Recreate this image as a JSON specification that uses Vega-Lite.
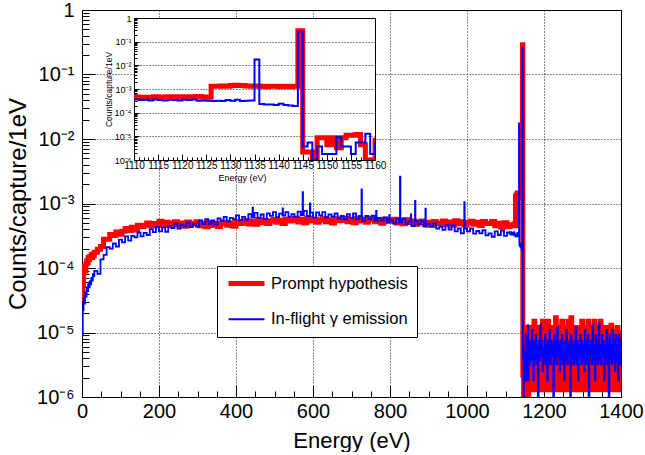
{
"$schema": "https://vega.github.io/schema/vega-lite/v6.json",
"background": "white",
"padding": {"left": 5, "top": -1, "right": 0, "bottom": 0},
"autosize": {"type": "pad"},
"config": {
  "font": "Liberation Sans",
  "view": {"stroke": "black", "strokeWidth": 1},
  "axis": {"labelColor": "#000", "titleColor": "#000", "tickColor": "#000", "domainColor": "#000", "titleFontWeight": "normal", "labelFont": "Liberation Sans", "titleFont": "Liberation Sans"},
  "line": {"strokeJoin": "miter", "strokeCap": "butt"}
},
"datasets": {
"h": [
{"s":"P","e":0,"v":3.3e-5},{"s":"P","e":2,"v":5.5e-5},{"s":"P","e":4,"v":8.5e-5},{"s":"P","e":6,"v":1.05e-4},{"s":"P","e":8,"v":9e-5},{"s":"P","e":10,"v":1.15e-4},{"s":"P","e":12,"v":1.3e-4},{"s":"P","e":14,"v":1.2e-4},{"s":"P","e":16,"v":1.45e-4},{"s":"P","e":18,"v":1.35e-4},{"s":"P","e":20,"v":1.5e-4},{"s":"P","e":22,"v":1.45e-4},{"s":"P","e":24,"v":1.6e-4},{"s":"P","e":26,"v":1.45e-4},{"s":"P","e":28,"v":1.65e-4},{"s":"P","e":30,"v":1.55e-4},
{"s":"P","e":32,"v":1.75e-4},{"s":"P","e":40,"v":1.95e-4},{"s":"P","e":48,"v":2.15e-4},{"s":"P","e":56,"v":2.8e-4},{"s":"P","e":64,"v":2.8e-4},{"s":"P","e":72,"v":3.3e-4},{"s":"P","e":80,"v":3.2e-4},{"s":"P","e":88,"v":3.6e-4},{"s":"P","e":96,"v":3.35e-4},{"s":"P","e":104,"v":3.7e-4},{"s":"P","e":112,"v":4.1e-4},{"s":"P","e":120,"v":3.8e-4},{"s":"P","e":128,"v":4.3e-4},{"s":"P","e":136,"v":3.9e-4},{"s":"P","e":144,"v":4.6e-4},{"s":"P","e":152,"v":4.4e-4},{"s":"P","e":160,"v":4.6e-4},{"s":"P","e":168,"v":5.0e-4},{"s":"P","e":176,"v":4.5e-4},{"s":"P","e":184,"v":4.9e-4},{"s":"P","e":192,"v":4.5e-4},{"s":"P","e":200,"v":5.3e-4},{"s":"P","e":208,"v":4.75e-4},{"s":"P","e":216,"v":5.1e-4},{"s":"P","e":224,"v":4.55e-4},{"s":"P","e":232,"v":4.95e-4},{"s":"P","e":240,"v":5.2e-4},{"s":"P","e":248,"v":4.65e-4},{"s":"P","e":256,"v":5.0e-4},{"s":"P","e":264,"v":4.45e-4},{"s":"P","e":272,"v":5.15e-4},{"s":"P","e":280,"v":4.8e-4},{"s":"P","e":288,"v":4.85e-4},{"s":"P","e":296,"v":5.2e-4},{"s":"P","e":304,"v":4.5e-4},{"s":"P","e":312,"v":4.95e-4},{"s":"P","e":320,"v":4.35e-4},{"s":"P","e":328,"v":5.1e-4},{"s":"P","e":336,"v":4.55e-4},{"s":"P","e":344,"v":4.9e-4},{"s":"P","e":352,"v":4.4e-4},{"s":"P","e":360,"v":4.85e-4},{"s":"P","e":368,"v":5.1e-4},{"s":"P","e":376,"v":4.6e-4},{"s":"P","e":384,"v":5.0e-4},{"s":"P","e":392,"v":4.45e-4},{"s":"P","e":400,"v":5.2e-4},{"s":"P","e":408,"v":4.9e-4},{"s":"P","e":416,"v":5.0e-4},{"s":"P","e":424,"v":5.4e-4},{"s":"P","e":432,"v":4.8e-4},{"s":"P","e":440,"v":5.25e-4},{"s":"P","e":448,"v":4.75e-4},{"s":"P","e":456,"v":5.6e-4},{"s":"P","e":464,"v":5.05e-4},{"s":"P","e":472,"v":5.45e-4},{"s":"P","e":480,"v":4.9e-4},{"s":"P","e":488,"v":5.35e-4},{"s":"P","e":496,"v":5.65e-4},{"s":"P","e":504,"v":5.1e-4},{"s":"P","e":512,"v":5.5e-4},{"s":"P","e":520,"v":4.9e-4},{"s":"P","e":528,"v":5.7e-4},{"s":"P","e":536,"v":5.35e-4},{"s":"P","e":544,"v":5.45e-4},{"s":"P","e":552,"v":5.9e-4},{"s":"P","e":560,"v":5.15e-4},{"s":"P","e":568,"v":5.65e-4},{"s":"P","e":576,"v":5.05e-4},{"s":"P","e":584,"v":5.95e-4},{"s":"P","e":592,"v":5.35e-4},{"s":"P","e":600,"v":5.7e-4},{"s":"P","e":608,"v":5.1e-4},{"s":"P","e":616,"v":5.55e-4},{"s":"P","e":624,"v":5.85e-4},{"s":"P","e":632,"v":5.2e-4},{"s":"P","e":640,"v":5.6e-4},{"s":"P","e":648,"v":5.0e-4},{"s":"P","e":656,"v":5.8e-4},{"s":"P","e":664,"v":5.4e-4},{"s":"P","e":672,"v":5.5e-4},{"s":"P","e":680,"v":5.9e-4},{"s":"P","e":688,"v":5.2e-4},{"s":"P","e":696,"v":5.65e-4},{"s":"P","e":704,"v":5.05e-4},{"s":"P","e":712,"v":5.95e-4},{"s":"P","e":720,"v":5.35e-4},{"s":"P","e":728,"v":5.7e-4},{"s":"P","e":736,"v":5.1e-4},{"s":"P","e":744,"v":5.55e-4},{"s":"P","e":752,"v":5.85e-4},{"s":"P","e":760,"v":5.2e-4},{"s":"P","e":768,"v":5.6e-4},{"s":"P","e":776,"v":4.95e-4},{"s":"P","e":784,"v":5.7e-4},{"s":"P","e":792,"v":5.3e-4},{"s":"P","e":800,"v":5.4e-4},{"s":"P","e":808,"v":5.7e-4},{"s":"P","e":816,"v":5.0e-4},{"s":"P","e":824,"v":5.45e-4},{"s":"P","e":832,"v":4.85e-4},{"s":"P","e":840,"v":5.6e-4},{"s":"P","e":848,"v":5.05e-4},{"s":"P","e":856,"v":5.35e-4},{"s":"P","e":864,"v":4.75e-4},{"s":"P","e":872,"v":5.15e-4},{"s":"P","e":880,"v":5.35e-4},{"s":"P","e":888,"v":4.75e-4},{"s":"P","e":896,"v":5.1e-4},{"s":"P","e":904,"v":4.55e-4},{"s":"P","e":912,"v":5.25e-4},{"s":"P","e":920,"v":4.9e-4},{"s":"P","e":928,"v":5.0e-4},{"s":"P","e":936,"v":5.35e-4},{"s":"P","e":944,"v":4.7e-4},{"s":"P","e":952,"v":5.15e-4},{"s":"P","e":960,"v":4.6e-4},{"s":"P","e":968,"v":5.4e-4},{"s":"P","e":976,"v":4.85e-4},{"s":"P","e":984,"v":5.2e-4},{"s":"P","e":992,"v":4.65e-4},{"s":"P","e":1000,"v":5.05e-4},{"s":"P","e":1008,"v":5.3e-4},{"s":"P","e":1016,"v":4.75e-4},{"s":"P","e":1024,"v":5.1e-4},{"s":"P","e":1032,"v":4.55e-4},{"s":"P","e":1040,"v":5.25e-4},{"s":"P","e":1048,"v":4.9e-4},{"s":"P","e":1056,"v":4.9e-4},{"s":"P","e":1064,"v":5.25e-4},{"s":"P","e":1072,"v":4.5e-4},{"s":"P","e":1080,"v":4.95e-4},{"s":"P","e":1088,"v":4.3e-4},{"s":"P","e":1096,"v":5.05e-4},{"s":"P","e":1104,"v":4.45e-4},
{"s":"P","e":1110,"v":4.6e-4},{"s":"P","e":1111,"v":4.4e-4},{"s":"P","e":1112,"v":4.5e-4},{"s":"P","e":1113,"v":4.5e-4},{"s":"P","e":1114,"v":4.7e-4},{"s":"P","e":1115,"v":4.6e-4},{"s":"P","e":1116,"v":4.5e-4},{"s":"P","e":1117,"v":4.7e-4},{"s":"P","e":1118,"v":4.6e-4},{"s":"P","e":1119,"v":4.7e-4},{"s":"P","e":1120,"v":4.5e-4},{"s":"P","e":1121,"v":4.7e-4},{"s":"P","e":1122,"v":4.6e-4},{"s":"P","e":1123,"v":4.8e-4},{"s":"P","e":1124,"v":4.6e-4},{"s":"P","e":1125,"v":4.5e-4},{"s":"P","e":1126,"v":1.3e-3},{"s":"P","e":1127,"v":1.3e-3},{"s":"P","e":1128,"v":1.35e-3},{"s":"P","e":1129,"v":1.3e-3},{"s":"P","e":1130,"v":1.4e-3},{"s":"P","e":1131,"v":1.45e-3},{"s":"P","e":1132,"v":1.4e-3},{"s":"P","e":1133,"v":1.35e-3},{"s":"P","e":1134,"v":1.3e-3},{"s":"P","e":1135,"v":1.35e-3},{"s":"P","e":1136,"v":1.3e-3},{"s":"P","e":1137,"v":1.25e-3},{"s":"P","e":1138,"v":1.3e-3},{"s":"P","e":1139,"v":1.3e-3},{"s":"P","e":1140,"v":1.25e-3},{"s":"P","e":1141,"v":1.3e-3},{"s":"P","e":1142,"v":1.25e-3},{"s":"P","e":1143,"v":1.3e-3},{"s":"P","e":1144,"v":0.29},{"s":"P","e":1145,"v":2.2e-6},{"s":"P","e":1146,"v":2.2e-6},{"s":"P","e":1147,"v":1e-6},{"s":"P","e":1148,"v":8.8e-6},{"s":"P","e":1149,"v":8.8e-6},{"s":"P","e":1150,"v":4.4e-6},{"s":"P","e":1151,"v":8.8e-6},{"s":"P","e":1152,"v":3.3e-6},{"s":"P","e":1153,"v":8.8e-6},{"s":"P","e":1154,"v":1.1e-5},{"s":"P","e":1155,"v":1.1e-5},{"s":"P","e":1156,"v":1.2e-5},{"s":"P","e":1157,"v":4.4e-6},{"s":"P","e":1158,"v":1e-6},{"s":"P","e":1159,"v":1e-6},
{"s":"P","e":1160,"v":8.8e-6},{"s":"P","e":1162,"v":1.3e-6},{"s":"P","e":1164,"v":1.2e-5},{"s":"P","e":1166,"v":1.3e-6},{"s":"P","e":1168,"v":5e-6},{"s":"P","e":1170,"v":1.0e-5},{"s":"P","e":1172,"v":1.3e-6},{"s":"P","e":1174,"v":1.5e-5},{"s":"P","e":1176,"v":3e-6},{"s":"P","e":1178,"v":1.0e-5},
{"s":"P","e":1180,"v":1.3e-6},{"s":"P","e":1182,"v":8e-6},{"s":"P","e":1184,"v":1.3e-6},{"s":"P","e":1186,"v":1.2e-5},{"s":"P","e":1188,"v":5e-6},{"s":"P","e":1190,"v":1.3e-6},{"s":"P","e":1192,"v":1.0e-5},{"s":"P","e":1194,"v":1.3e-6},{"s":"P","e":1196,"v":1.5e-5},{"s":"P","e":1198,"v":3e-6},
{"s":"P","e":1200,"v":1.2e-5},{"s":"P","e":1202,"v":1.3e-6},{"s":"P","e":1204,"v":1.0e-5},{"s":"P","e":1206,"v":5e-6},{"s":"P","e":1208,"v":1.3e-6},{"s":"P","e":1210,"v":1.5e-5},{"s":"P","e":1212,"v":1.3e-6},{"s":"P","e":1214,"v":1.0e-5},{"s":"P","e":1216,"v":3e-6},{"s":"P","e":1218,"v":1.2e-5},
{"s":"P","e":1220,"v":1.3e-6},{"s":"P","e":1222,"v":1.0e-5},{"s":"P","e":1224,"v":1.3e-6},{"s":"P","e":1226,"v":8e-6},{"s":"P","e":1228,"v":1.3e-6},{"s":"P","e":1230,"v":1.7e-5},{"s":"P","e":1232,"v":5e-6},{"s":"P","e":1234,"v":1.0e-5},{"s":"P","e":1236,"v":1.3e-6},{"s":"P","e":1238,"v":1.2e-5},
{"s":"P","e":1240,"v":3e-6},{"s":"P","e":1242,"v":1.0e-5},{"s":"P","e":1244,"v":1.3e-6},{"s":"P","e":1246,"v":1.5e-5},{"s":"P","e":1248,"v":1.3e-6},{"s":"P","e":1250,"v":8e-6},{"s":"P","e":1252,"v":5e-6},{"s":"P","e":1254,"v":1.2e-5},{"s":"P","e":1256,"v":1.3e-6},{"s":"P","e":1258,"v":1.0e-5},
{"s":"P","e":1260,"v":1.3e-6},{"s":"P","e":1262,"v":1.5e-5},{"s":"P","e":1264,"v":3e-6},{"s":"P","e":1266,"v":1.0e-5},{"s":"P","e":1268,"v":1.3e-6},{"s":"P","e":1270,"v":1.7e-5},{"s":"P","e":1272,"v":1.3e-6},{"s":"P","e":1274,"v":1.0e-5},{"s":"P","e":1276,"v":5e-6},{"s":"P","e":1278,"v":1.2e-5},
{"s":"P","e":1280,"v":1.3e-6},{"s":"P","e":1282,"v":1.0e-5},{"s":"P","e":1284,"v":1.3e-6},{"s":"P","e":1286,"v":8e-6},{"s":"P","e":1288,"v":3e-6},{"s":"P","e":1290,"v":1.2e-5},{"s":"P","e":1292,"v":1.3e-6},{"s":"P","e":1294,"v":1.0e-5},{"s":"P","e":1296,"v":1.3e-6},{"s":"P","e":1298,"v":1.5e-5},
{"s":"P","e":1300,"v":5e-6},{"s":"P","e":1302,"v":1.0e-5},{"s":"P","e":1304,"v":1.3e-6},{"s":"P","e":1306,"v":1.2e-5},{"s":"P","e":1308,"v":1.3e-6},{"s":"P","e":1310,"v":1.0e-5},{"s":"P","e":1312,"v":3e-6},{"s":"P","e":1314,"v":1.5e-5},{"s":"P","e":1316,"v":1.3e-6},{"s":"P","e":1318,"v":8e-6},
{"s":"P","e":1320,"v":1.3e-6},{"s":"P","e":1322,"v":1.2e-5},{"s":"P","e":1324,"v":5e-6},{"s":"P","e":1326,"v":1.0e-5},{"s":"P","e":1328,"v":1.3e-6},{"s":"P","e":1330,"v":1.5e-5},{"s":"P","e":1332,"v":1.3e-6},{"s":"P","e":1334,"v":1.0e-5},{"s":"P","e":1336,"v":3e-6},{"s":"P","e":1338,"v":1.2e-5},
{"s":"P","e":1340,"v":1.3e-6},{"s":"P","e":1342,"v":1.0e-5},{"s":"P","e":1344,"v":1.3e-6},{"s":"P","e":1346,"v":1.5e-5},{"s":"P","e":1348,"v":5e-6},{"s":"P","e":1350,"v":1.0e-5},{"s":"P","e":1352,"v":1.3e-6},{"s":"P","e":1354,"v":8e-6},{"s":"P","e":1356,"v":1.3e-6},{"s":"P","e":1358,"v":1.2e-5},
{"s":"P","e":1360,"v":3e-6},{"s":"P","e":1362,"v":1.0e-5},{"s":"P","e":1364,"v":1.3e-6},{"s":"P","e":1366,"v":1.2e-5},{"s":"P","e":1368,"v":1.3e-6},{"s":"P","e":1370,"v":1.0e-5},{"s":"P","e":1372,"v":5e-6},{"s":"P","e":1374,"v":1.3e-5},{"s":"P","e":1376,"v":1.3e-6},{"s":"P","e":1378,"v":1.0e-5},
{"s":"P","e":1380,"v":1.3e-6},{"s":"P","e":1382,"v":8e-6},{"s":"P","e":1384,"v":3e-6},{"s":"P","e":1386,"v":1.0e-5},{"s":"P","e":1388,"v":1.3e-6},{"s":"P","e":1390,"v":1.2e-5},{"s":"P","e":1392,"v":1.3e-6},{"s":"P","e":1394,"v":1.0e-5},{"s":"P","e":1396,"v":5e-6},{"s":"P","e":1398,"v":1.0e-5},{"s":"P","e":1400,"v":1.0e-5},
{"s":"F","e":0,"v":9e-6},{"s":"F","e":2,"v":2.2e-5},{"s":"F","e":4,"v":3.4e-5},{"s":"F","e":6,"v":2.8e-5},{"s":"F","e":8,"v":4.2e-5},{"s":"F","e":10,"v":3.6e-5},{"s":"F","e":12,"v":5.0e-5},{"s":"F","e":14,"v":4.4e-5},{"s":"F","e":16,"v":5.6e-5},{"s":"F","e":18,"v":5.0e-5},{"s":"F","e":20,"v":6.2e-5},{"s":"F","e":22,"v":5.6e-5},{"s":"F","e":24,"v":7.0e-5},{"s":"F","e":26,"v":6.4e-5},{"s":"F","e":28,"v":8.0e-5},{"s":"F","e":30,"v":7.4e-5},
{"s":"F","e":32,"v":9.0e-5},{"s":"F","e":40,"v":8.1e-5},{"s":"F","e":48,"v":1.36e-4},{"s":"F","e":56,"v":1.6e-4},{"s":"F","e":64,"v":2.1e-4},{"s":"F","e":72,"v":2.0e-4},{"s":"F","e":80,"v":2.4e-4},{"s":"F","e":88,"v":2.15e-4},{"s":"F","e":96,"v":2.75e-4},{"s":"F","e":104,"v":2.5e-4},{"s":"F","e":112,"v":3.1e-4},{"s":"F","e":120,"v":2.65e-4},{"s":"F","e":128,"v":3.15e-4},{"s":"F","e":136,"v":3.0e-4},{"s":"F","e":144,"v":3.55e-4},{"s":"F","e":152,"v":3.1e-4},{"s":"F","e":160,"v":3.5e-4},{"s":"F","e":168,"v":3.25e-4},{"s":"F","e":176,"v":4.0e-4},{"s":"F","e":184,"v":3.6e-4},{"s":"F","e":192,"v":4.35e-4},{"s":"F","e":200,"v":3.7e-4},{"s":"F","e":208,"v":4.25e-4},{"s":"F","e":216,"v":3.65e-4},{"s":"F","e":224,"v":4.5e-4},{"s":"F","e":232,"v":4.15e-4},{"s":"F","e":240,"v":4.85e-4},{"s":"F","e":248,"v":4.1e-4},{"s":"F","e":256,"v":4.7e-4},{"s":"F","e":264,"v":4.4e-4},{"s":"F","e":272,"v":5.1e-4},{"s":"F","e":280,"v":4.3e-4},{"s":"F","e":288,"v":4.85e-4},{"s":"F","e":296,"v":4.4e-4},{"s":"F","e":304,"v":5.45e-4},{"s":"F","e":312,"v":4.8e-4},{"s":"F","e":320,"v":5.7e-4},{"s":"F","e":328,"v":4.85e-4},{"s":"F","e":336,"v":5.45e-4},{"s":"F","e":344,"v":4.7e-4},{"s":"F","e":352,"v":5.85e-4},{"s":"F","e":360,"v":5.4e-4},{"s":"F","e":368,"v":6.2e-4},{"s":"F","e":376,"v":5.3e-4},{"s":"F","e":384,"v":6.0e-4},{"s":"F","e":392,"v":5.7e-4},{"s":"F","e":400,"v":6.55e-4},{"s":"F","e":408,"v":5.55e-4},{"s":"F","e":416,"v":6.2e-4},{"s":"F","e":424,"v":5.6e-4},{"s":"F","e":432,"v":6.85e-4},{"s":"F","e":440,"v":6.05e-4},{"s":"F","e":443,"v":8.6e-4},{"s":"F","e":444,"v":6.05e-4},{"s":"F","e":448,"v":7.15e-4},{"s":"F","e":456,"v":6.0e-4},{"s":"F","e":464,"v":6.75e-4},{"s":"F","e":472,"v":5.75e-4},{"s":"F","e":480,"v":7.05e-4},{"s":"F","e":488,"v":6.45e-4},{"s":"F","e":496,"v":7.35e-4},{"s":"F","e":504,"v":6.15e-4},{"s":"F","e":512,"v":6.95e-4},{"s":"F","e":520,"v":6.5e-4},{"s":"F","e":521,"v":8.4e-4},{"s":"F","e":522,"v":6.5e-4},{"s":"F","e":528,"v":7.35e-4},{"s":"F","e":536,"v":6.25e-4},{"s":"F","e":544,"v":6.85e-4},{"s":"F","e":552,"v":6.2e-4},{"s":"F","e":560,"v":7.5e-4},{"s":"F","e":568,"v":6.55e-4},{"s":"F","e":573,"v":1.5e-3},{"s":"F","e":574,"v":6.55e-4},{"s":"F","e":576,"v":7.7e-4},{"s":"F","e":584,"v":6.4e-4},{"s":"F","e":592,"v":1.0e-3},{"s":"F","e":593,"v":7.2e-4},{"s":"F","e":600,"v":6.05e-4},{"s":"F","e":608,"v":7.3e-4},{"s":"F","e":616,"v":6.55e-4},{"s":"F","e":624,"v":7.35e-4},{"s":"F","e":632,"v":6.1e-4},{"s":"F","e":640,"v":6.8e-4},{"s":"F","e":648,"v":6.3e-4},{"s":"F","e":656,"v":7.0e-4},{"s":"F","e":664,"v":5.85e-4},{"s":"F","e":672,"v":6.4e-4},{"s":"F","e":680,"v":5.7e-4},{"s":"F","e":688,"v":6.85e-4},{"s":"F","e":696,"v":6.0e-4},{"s":"F","e":704,"v":7.0e-4},{"s":"F","e":712,"v":5.75e-4},{"s":"F","e":720,"v":6.4e-4},{"s":"F","e":726,"v":1.66e-3},{"s":"F","e":727,"v":6.4e-4},{"s":"F","e":728,"v":5.35e-4},{"s":"F","e":736,"v":6.4e-4},{"s":"F","e":744,"v":5.75e-4},{"s":"F","e":752,"v":6.5e-4},{"s":"F","e":760,"v":5.4e-4},{"s":"F","e":764,"v":7.7e-4},{"s":"F","e":765,"v":5.4e-4},{"s":"F","e":768,"v":6.0e-4},{"s":"F","e":776,"v":5.45e-4},{"s":"F","e":784,"v":6.1e-4},{"s":"F","e":792,"v":5.1e-4},{"s":"F","e":798,"v":6.6e-4},{"s":"F","e":799,"v":5.1e-4},{"s":"F","e":800,"v":5.5e-4},{"s":"F","e":808,"v":4.9e-4},{"s":"F","e":816,"v":5.9e-4},{"s":"F","e":824,"v":5.05e-4},{"s":"F","e":826,"v":2.6e-3},{"s":"F","e":827,"v":5.05e-4},{"s":"F","e":832,"v":5.9e-4},{"s":"F","e":840,"v":4.85e-4},{"s":"F","e":848,"v":5.3e-4},{"s":"F","e":854,"v":6.8e-4},{"s":"F","e":855,"v":5.3e-4},{"s":"F","e":856,"v":4.45e-4},{"s":"F","e":864,"v":5.35e-4},{"s":"F","e":865,"v":1.1e-3},{"s":"F","e":866,"v":5.35e-4},{"s":"F","e":872,"v":4.75e-4},{"s":"F","e":880,"v":5.35e-4},{"s":"F","e":888,"v":4.4e-4},{"s":"F","e":892,"v":8.3e-4},{"s":"F","e":893,"v":4.4e-4},{"s":"F","e":896,"v":4.85e-4},{"s":"F","e":904,"v":4.45e-4},{"s":"F","e":912,"v":4.9e-4},{"s":"F","e":920,"v":4.1e-4},{"s":"F","e":928,"v":4.4e-4},{"s":"F","e":936,"v":3.9e-4},{"s":"F","e":944,"v":4.65e-4},{"s":"F","e":952,"v":3.95e-4},{"s":"F","e":960,"v":4.6e-4},{"s":"F","e":968,"v":3.7e-4},{"s":"F","e":976,"v":4.1e-4},{"s":"F","e":984,"v":3.45e-4},{"s":"F","e":992,"v":4.1e-4},{"s":"F","e":993,"v":1.05e-3},{"s":"F","e":994,"v":4.1e-4},{"s":"F","e":1000,"v":3.7e-4},{"s":"F","e":1008,"v":4.1e-4},{"s":"F","e":1016,"v":3.4e-4},{"s":"F","e":1024,"v":3.75e-4},{"s":"F","e":1032,"v":3.45e-4},{"s":"F","e":1040,"v":3.85e-4},{"s":"F","e":1048,"v":3.2e-4},{"s":"F","e":1056,"v":3.45e-4},{"s":"F","e":1064,"v":3.05e-4},{"s":"F","e":1072,"v":3.7e-4},{"s":"F","e":1080,"v":3.25e-4},{"s":"F","e":1088,"v":3.8e-4},{"s":"F","e":1096,"v":3.15e-4},{"s":"F","e":1104,"v":3.55e-4},
{"s":"F","e":1110,"v":3.6e-4},{"s":"F","e":1111,"v":3.4e-4},{"s":"F","e":1112,"v":3.5e-4},{"s":"F","e":1113,"v":3.3e-4},{"s":"F","e":1114,"v":3.6e-4},{"s":"F","e":1115,"v":3.4e-4},{"s":"F","e":1116,"v":3.3e-4},{"s":"F","e":1117,"v":3.5e-4},{"s":"F","e":1118,"v":3.4e-4},{"s":"F","e":1119,"v":3.3e-4},{"s":"F","e":1120,"v":3.5e-4},{"s":"F","e":1121,"v":3.4e-4},{"s":"F","e":1122,"v":3.6e-4},{"s":"F","e":1123,"v":3.2e-4},{"s":"F","e":1124,"v":3.3e-4},{"s":"F","e":1125,"v":3.2e-4},{"s":"F","e":1126,"v":3.1e-4},{"s":"F","e":1127,"v":3.2e-4},{"s":"F","e":1128,"v":3.1e-4},{"s":"F","e":1129,"v":3.4e-4},{"s":"F","e":1130,"v":3.2e-4},{"s":"F","e":1131,"v":3.5e-4},{"s":"F","e":1132,"v":3.1e-4},{"s":"F","e":1133,"v":3.2e-4},{"s":"F","e":1134,"v":3.3e-4},{"s":"F","e":1135,"v":1.75e-2},{"s":"F","e":1136,"v":2.3e-4},{"s":"F","e":1137,"v":2.2e-4},{"s":"F","e":1138,"v":2.2e-4},{"s":"F","e":1139,"v":2.1e-4},{"s":"F","e":1140,"v":2.4e-4},{"s":"F","e":1141,"v":2.1e-4},{"s":"F","e":1142,"v":2.0e-4},{"s":"F","e":1143,"v":1.9e-4},{"s":"F","e":1144,"v":0.26},{"s":"F","e":1145,"v":3.7e-6},{"s":"F","e":1146,"v":5.5e-6},{"s":"F","e":1147,"v":1e-6},{"s":"F","e":1148,"v":3.7e-6},{"s":"F","e":1149,"v":1.8e-6},{"s":"F","e":1150,"v":1.8e-6},{"s":"F","e":1151,"v":1.8e-6},{"s":"F","e":1152,"v":9.2e-6},{"s":"F","e":1153,"v":3.7e-6},{"s":"F","e":1154,"v":3.7e-6},{"s":"F","e":1155,"v":1.8e-6},{"s":"F","e":1156,"v":5.5e-6},{"s":"F","e":1157,"v":5.5e-6},{"s":"F","e":1158,"v":1.3e-5},{"s":"F","e":1159,"v":1.8e-6},
{"s":"F","e":1160,"v":5.5e-6},{"s":"F","e":1162,"v":3.2e-6},{"s":"F","e":1164,"v":7.4e-6},{"s":"F","e":1166,"v":3.7e-6},{"s":"F","e":1168,"v":1.1e-5},{"s":"F","e":1170,"v":4.5e-6},{"s":"F","e":1172,"v":1.8e-6},{"s":"F","e":1174,"v":7.4e-6},{"s":"F","e":1176,"v":3.7e-6},{"s":"F","e":1178,"v":9.2e-6},
{"s":"F","e":1180,"v":3.2e-6},{"s":"F","e":1182,"v":6.5e-6},{"s":"F","e":1184,"v":1e-6},{"s":"F","e":1186,"v":7.4e-6},{"s":"F","e":1188,"v":3.7e-6},{"s":"F","e":1190,"v":1.3e-5},{"s":"F","e":1192,"v":4.5e-6},{"s":"F","e":1194,"v":7.4e-6},{"s":"F","e":1196,"v":2.5e-6},{"s":"F","e":1198,"v":5.5e-6},
{"s":"F","e":1200,"v":3.7e-6},{"s":"F","e":1202,"v":9.2e-6},{"s":"F","e":1204,"v":3.2e-6},{"s":"F","e":1206,"v":6.5e-6},{"s":"F","e":1208,"v":1.8e-6},{"s":"F","e":1210,"v":7.4e-6},{"s":"F","e":1212,"v":3.7e-6},{"s":"F","e":1214,"v":1.1e-5},{"s":"F","e":1216,"v":3.2e-6},{"s":"F","e":1218,"v":7.4e-6},
{"s":"F","e":1220,"v":4.5e-6},{"s":"F","e":1222,"v":6.5e-6},{"s":"F","e":1224,"v":1e-6},{"s":"F","e":1226,"v":9.2e-6},{"s":"F","e":1228,"v":3.7e-6},{"s":"F","e":1230,"v":7.4e-6},{"s":"F","e":1232,"v":3.2e-6},{"s":"F","e":1234,"v":1.2e-5},{"s":"F","e":1236,"v":4.5e-6},{"s":"F","e":1238,"v":6.5e-6},
{"s":"F","e":1240,"v":2.5e-6},{"s":"F","e":1242,"v":7.4e-6},{"s":"F","e":1244,"v":3.7e-6},{"s":"F","e":1246,"v":9.2e-6},{"s":"F","e":1248,"v":3.2e-6},{"s":"F","e":1250,"v":5.5e-6},{"s":"F","e":1252,"v":1.8e-6},{"s":"F","e":1254,"v":7.4e-6},{"s":"F","e":1256,"v":3.7e-6},{"s":"F","e":1258,"v":1.1e-5},
{"s":"F","e":1260,"v":3.2e-6},{"s":"F","e":1262,"v":6.5e-6},{"s":"F","e":1264,"v":4.5e-6},{"s":"F","e":1266,"v":7.4e-6},{"s":"F","e":1268,"v":1e-6},{"s":"F","e":1270,"v":9.2e-6},{"s":"F","e":1272,"v":3.7e-6},{"s":"F","e":1274,"v":6.5e-6},{"s":"F","e":1276,"v":3.2e-6},{"s":"F","e":1278,"v":7.4e-6},
{"s":"F","e":1280,"v":3.7e-6},{"s":"F","e":1282,"v":1.2e-5},{"s":"F","e":1284,"v":3.2e-6},{"s":"F","e":1286,"v":7.4e-6},{"s":"F","e":1288,"v":1.8e-6},{"s":"F","e":1290,"v":6.5e-6},{"s":"F","e":1292,"v":4.5e-6},{"s":"F","e":1294,"v":9.2e-6},{"s":"F","e":1296,"v":3.2e-6},{"s":"F","e":1298,"v":7.4e-6},
{"s":"F","e":1300,"v":3.7e-6},{"s":"F","e":1302,"v":6.5e-6},{"s":"F","e":1304,"v":2.5e-6},{"s":"F","e":1306,"v":1.1e-5},{"s":"F","e":1308,"v":3.7e-6},{"s":"F","e":1310,"v":7.4e-6},{"s":"F","e":1312,"v":3.2e-6},{"s":"F","e":1314,"v":9.2e-6},{"s":"F","e":1316,"v":1e-6},{"s":"F","e":1318,"v":6.5e-6},
{"s":"F","e":1320,"v":4.5e-6},{"s":"F","e":1322,"v":7.4e-6},{"s":"F","e":1324,"v":3.2e-6},{"s":"F","e":1326,"v":1.3e-5},{"s":"F","e":1328,"v":3.7e-6},{"s":"F","e":1330,"v":6.5e-6},{"s":"F","e":1332,"v":1.8e-6},{"s":"F","e":1334,"v":9.2e-6},{"s":"F","e":1336,"v":3.7e-6},{"s":"F","e":1338,"v":7.4e-6},
{"s":"F","e":1340,"v":3.2e-6},{"s":"F","e":1342,"v":1.4e-5},{"s":"F","e":1344,"v":3.7e-6},{"s":"F","e":1346,"v":6.5e-6},{"s":"F","e":1348,"v":3.2e-6},{"s":"F","e":1350,"v":9.2e-6},{"s":"F","e":1352,"v":4.5e-6},{"s":"F","e":1354,"v":7.4e-6},{"s":"F","e":1356,"v":1.8e-6},{"s":"F","e":1358,"v":6.5e-6},
{"s":"F","e":1360,"v":3.7e-6},{"s":"F","e":1362,"v":1.1e-5},{"s":"F","e":1364,"v":3.2e-6},{"s":"F","e":1366,"v":7.4e-6},{"s":"F","e":1368,"v":1e-6},{"s":"F","e":1370,"v":9.2e-6},{"s":"F","e":1372,"v":3.7e-6},{"s":"F","e":1374,"v":6.5e-6},{"s":"F","e":1376,"v":3.2e-6},{"s":"F","e":1378,"v":1.1e-5},
{"s":"F","e":1380,"v":3.7e-6},{"s":"F","e":1382,"v":7.4e-6},{"s":"F","e":1384,"v":2.5e-6},{"s":"F","e":1386,"v":9.2e-6},{"s":"F","e":1388,"v":3.7e-6},{"s":"F","e":1390,"v":6.5e-6},{"s":"F","e":1392,"v":1.8e-6},{"s":"F","e":1394,"v":9.2e-6},{"s":"F","e":1396,"v":3.2e-6},{"s":"F","e":1398,"v":7.4e-6},{"s":"F","e":1400,"v":7.4e-6}
]
},
"bounds": "flush",
"align": "none",
"spacing": -487,
"concat": [
{
  "width": 539, "height": 387,
  "data": {"name": "h"},
  "encoding": {
    "x": {"field": "e", "type": "quantitative", "scale": {"domain": [0, 1400], "nice": false, "zero": false},
      "axis": {"title": "Energy (eV)", "values": [0,50,100,150,200,250,300,350,400,450,500,550,600,650,700,750,800,850,900,950,1000,1050,1100,1150,1200,1250,1300,1350,1400],
        "format": "d", "labelExpr": "datum.value % 200 === 0 ? datum.label : ''",
        "tickSize": {"condition": {"test": "datum.value % 200 === 0", "value": -12}, "value": -6},
        "grid": true, "gridDash": [1, 2], "gridColor": "#000",
        "gridOpacity": {"condition": {"test": "datum.value % 200 === 0", "value": 0.9}, "value": 0},
        "labelFontSize": 20, "titleFontSize": 22, "labelPadding": 16, "titlePadding": 3,
        "labelFlush": false, "labelOverlap": false}},
    "y": {"field": "v", "type": "quantitative", "scale": {"type": "log", "domain": [0.000001, 1], "nice": false},
      "axis": {"title": "Counts/capture/1eV",
        "values": [0.000001,0.000002,0.000003,0.000004,0.000005,0.000006,0.000007,0.000008,0.000009,0.00001,0.00002,0.00003,0.00004,0.00005,0.00006,0.00007,0.00008,0.00009,0.0001,0.0002,0.0003,0.0004,0.0005,0.0006,0.0007,0.0008,0.0009,0.001,0.002,0.003,0.004,0.005,0.006,0.007,0.008,0.009,0.01,0.02,0.03,0.04,0.05,0.06,0.07,0.08,0.09,0.1,0.2,0.3,0.4,0.5,0.6,0.7,0.8,0.9,1],
        "labelExpr": "datum.value >= 0.999 ? '1' : (abs(log(datum.value)/LN10 - round(log(datum.value)/LN10)) < 0.001 ? '10' + ['⁻⁶','⁻⁵','⁻⁴','⁻³','⁻²','⁻¹'][round(log(datum.value)/LN10) + 6] : '')",
        "tickSize": {"condition": {"test": "abs(log(datum.value)/LN10 - round(log(datum.value)/LN10)) < 0.001", "value": -13}, "value": -7},
        "grid": true, "gridDash": [1, 2], "gridColor": "#000",
        "gridOpacity": {"condition": {"test": "abs(log(datum.value)/LN10 - round(log(datum.value)/LN10)) < 0.001", "value": 0.9}, "value": 0},
        "labelFontSize": 20, "titleFontSize": 24, "labelPadding": 21, "titlePadding": 6,
        "labelFlush": false, "labelOverlap": false}},
    "color": {"field": "s", "type": "nominal", "scale": {"domain": ["P", "F"], "range": ["#ff0000", "#0000ff"]},
      "legend": {"orient": "none", "legendX": 135, "legendY": 256, "title": null,
        "labelExpr": "datum.label == 'P' ? 'Prompt hypothesis' : 'In-flight γ emission'",
        "fillColor": "white", "strokeColor": "black", "padding": 9, "rowPadding": 17,
        "labelFontSize": 16.5, "labelFont": "Liberation Sans", "labelColor": "#000", "labelLimit": 400,
        "symbolSize": 144, "symbolType": "M-1,0H5", "labelOffset": 28}},
    "strokeWidth": {"field": "s", "type": "nominal", "scale": {"type": "ordinal", "domain": ["P", "F"], "range": [5, 1.8]},
      "legend": {"orient": "none", "legendX": 135, "legendY": 256, "title": null,
        "labelExpr": "datum.label == 'P' ? 'Prompt hypothesis' : 'In-flight γ emission'",
        "fillColor": "white", "strokeColor": "black", "padding": 9, "rowPadding": 17,
        "labelFontSize": 16.5, "labelFont": "Liberation Sans", "labelColor": "#000", "labelLimit": 400,
        "symbolSize": 144, "symbolType": "M-1,0H5", "labelOffset": 28}}
  },
  "layer": [
    {"transform": [{"filter": "datum.s == 'P'"}], "mark": {"type": "line", "interpolate": "step-after", "clip": true}},
    {"transform": [{"filter": "datum.s == 'F'"}], "mark": {"type": "line", "interpolate": "step-after", "clip": true}}
  ]
},
{
  "bounds": "flush",
  "spacing": 7,
  "vconcat": [
    {"width": 241, "height": 1, "data": {"values": []}, "mark": "point", "view": {"stroke": null}},
    {
      "width": 241, "height": 142,
      "view": {"fill": "white", "stroke": "black"},
      "data": {"name": "h"},
      "transform": [{"filter": "datum.e >= 1110 && datum.e <= 1160"}],
      "encoding": {
        "x": {"field": "e", "type": "quantitative", "scale": {"domain": [1110, 1160], "nice": false, "zero": false},
          "axis": {"title": "Energy (eV)", "values": [1110,1111,1112,1113,1114,1115,1116,1117,1118,1119,1120,1121,1122,1123,1124,1125,1126,1127,1128,1129,1130,1131,1132,1133,1134,1135,1136,1137,1138,1139,1140,1141,1142,1143,1144,1145,1146,1147,1148,1149,1150,1151,1152,1153,1154,1155,1156,1157,1158,1159,1160],
            "format": "d", "labelExpr": "datum.value % 5 === 0 ? datum.label : ''",
            "tickSize": {"condition": {"test": "datum.value % 5 === 0", "value": -6}, "value": -3},
            "grid": false, "labelFontSize": 10, "titleFontSize": 9, "labelPadding": 6, "titlePadding": 0,
            "titleX": 108, "labelFlush": false, "labelOverlap": false}},
        "y": {"field": "v", "type": "quantitative", "scale": {"type": "log", "domain": [0.000001, 1], "nice": false},
          "axis": {"title": "Counts/capture/1eV",
            "values": [0.000001,0.000002,0.000003,0.000004,0.000005,0.000006,0.000007,0.000008,0.000009,0.00001,0.00002,0.00003,0.00004,0.00005,0.00006,0.00007,0.00008,0.00009,0.0001,0.0002,0.0003,0.0004,0.0005,0.0006,0.0007,0.0008,0.0009,0.001,0.002,0.003,0.004,0.005,0.006,0.007,0.008,0.009,0.01,0.02,0.03,0.04,0.05,0.06,0.07,0.08,0.09,0.1,0.2,0.3,0.4,0.5,0.6,0.7,0.8,0.9,1],
            "labelExpr": "datum.value >= 0.999 ? '1' : (abs(log(datum.value)/LN10 - round(log(datum.value)/LN10)) < 0.001 ? '10' + ['⁻⁶','⁻⁵','⁻⁴','⁻³','⁻²','⁻¹'][round(log(datum.value)/LN10) + 6] : '')",
            "tickSize": {"condition": {"test": "abs(log(datum.value)/LN10 - round(log(datum.value)/LN10)) < 0.001", "value": -5}, "value": -3},
            "grid": true, "gridDash": [1, 2], "gridColor": "#000",
            "gridOpacity": {"condition": {"test": "abs(log(datum.value)/LN10 - round(log(datum.value)/LN10)) < 0.001 && datum.value < 0.999 && datum.value > 0.0000011", "value": 0.9}, "value": 0},
            "labelFontSize": 9, "titleFontSize": 8.5, "labelPadding": 8, "titlePadding": 1,
            "labelFlush": false, "labelOverlap": false}}
      },
      "layer": [
        {"transform": [{"filter": "datum.s == 'P'"}], "mark": {"type": "line", "interpolate": "step-after", "clip": true, "color": "#ff0000", "strokeWidth": 5}},
        {"transform": [{"filter": "datum.s == 'F'"}], "mark": {"type": "line", "interpolate": "step-after", "clip": true, "color": "#0000ff", "strokeWidth": 2}}
      ]
    }
  ]
}
]
}
